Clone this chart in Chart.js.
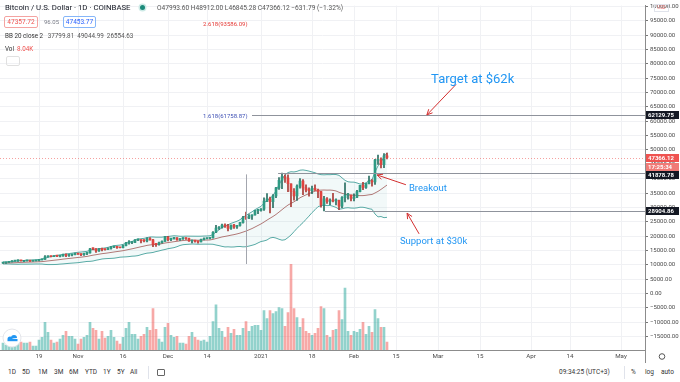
<!DOCTYPE html>
<html>
<head>
<meta charset="utf-8">
<script src="https://cdn.jsdelivr.net/npm/chart.js@4.4.0/dist/chart.umd.min.js"></script>
<style>
  body { margin: 0; width: 680px; height: 382px; overflow: hidden; background: #fff; position: relative;
         font-family: Roboto, "Noto Sans", Arial, sans-serif; }
  #wrap { position: absolute; left: 0; top: 0; width: 680px; height: 363px; }
  .t { position: absolute; white-space: nowrap; line-height: 1; }
  #sym { left: 5px; top: 4px; font-size: 7.8px; color: #131722; }
  #dot { left: 140px; top: 5px; width: 5px; height: 5px; border-radius: 50%; background: #1b8a7a; box-shadow: 0 0 0 1.5px #cdeae6; }
  #ohlc { left: 157px; top: 5px; font-size: 6.6px; color: #555; }
  .box { top: 16px; height: 12px; line-height: 10px; border-radius: 2px; box-sizing: border-box; text-align: center; font-size: 6.5px; }
  #bid { left: 4px; width: 34px; border: 1px solid #f4a3a1; color: #ef5350; }
  #spread { left: 44px; top: 19px; font-size: 6px; color: #787b86; }
  #ask { left: 63px; width: 33px; border: 1px solid #86b6f8; color: #2962ff; }
  #bb { left: 5px; top: 33px; font-size: 6.3px; color: #555; }
  #bb b { font-weight: normal; color: #333; margin-right: 3px; }
  #vol { left: 5px; top: 46px; font-size: 6.3px; color: #333; }
  #vol span { color: #ef5350; margin-left: 3px; }
  #fold { left: 6px; top: 56px; width: 12px; height: 8px; border: 1px solid #e0e0e0; border-radius: 2px; }
  #tb { position: absolute; left: 0; top: 363px; width: 680px; height: 19px; font-size: 6.5px; color: #333; }
  #tb .t { top: 6px; }
  .sep { position: absolute; top: 3px; width: 1px; height: 13px; background: #e0e3eb; }
  #cal { left: 157px; top: 5px; width: 8px; height: 7px; border: 1px solid #666; border-radius: 1px; box-sizing: border-box; }
</style>
</head>
<body>
<div id="wrap"><canvas id="c" width="680" height="363"></canvas></div>

<div class="t" id="sym">Bitcoin / U.S. Dollar · 1D · COINBASE</div>
<div class="t" id="dot"></div>
<div class="t" id="ohlc">O47993.60 H48912.00 L46845.28 C47366.12 −631.79 (−1.32%)</div>
<div class="t box" id="bid">47357.72</div>
<div class="t" id="spread">96.05</div>
<div class="t box" id="ask">47453.77</div>
<div class="t" id="bb"><b>BB 20 close 2</b> 37799.81&nbsp; 49044.99&nbsp; 26554.63</div>
<div class="t" id="vol">Vol<span>8.04K</span></div>
<div class="t" id="fold"></div>

<div id="tb">
  <span class="t" style="left:8px">1D</span>
  <span class="t" style="left:22px">5D</span>
  <span class="t" style="left:38px">1M</span>
  <span class="t" style="left:54px">3M</span>
  <span class="t" style="left:69px">6M</span>
  <span class="t" style="left:85px">YTD</span>
  <span class="t" style="left:103px">1Y</span>
  <span class="t" style="left:117px">5Y</span>
  <span class="t" style="left:130px">All</span>
  <div class="sep" style="left:148px"></div>
  <div class="t" id="cal"></div>
  <span class="t" style="left:559px">09:34:25 (UTC+3)</span>
  <div class="sep" style="left:624px"></div>
  <span class="t" style="left:631px">%</span>
  <span class="t" style="left:645px">log</span>
  <span class="t" style="left:661px">auto</span>
</div>

<script>
// daily candles, 7 Oct 2020 .. 12 Feb 2021 (index 0 = 7 Oct)
const opens = [
  10600,10670,10930,11060,11300,11380,11540,11430,11430,11510,11320,11370,11510,11750,11920,12820,12980,12930,13120,13030,13070,13650,13280,13460,13560,
  13800,13760,13560,14030,14160,15590,15580,14830,15480,15330,15310,15700,16280,16330,16070,15960,16730,17660,17780,17810,18680,18720,18420,18370,19160,18730,17150,17140,17720,18180,
  19700,18790,19230,19450,18650,19150,19360,19170,18320,18550,18250,18030,18800,19170,19270,19440,21350,22800,23130,23860,23480,22730,23820,23240,23730,24700,26440,26250,27040,27370,28880,
  28990,29390,32200,33000,32030,34030,36820,39470,40670,40240,38240,35540,34010,37390,39150,36830,36070,35820,36630,36020,35480,30830,33000,32100,32290,32260,32510,30430,33420,34260,34320,
  33110,33540,35510,37670,36960,38290,39260,38880,46450,46500,44850,47993.60
];
const highs = [
  10680,10950,11100,11490,11440,11720,11560,11560,11630,11540,11410,11520,11820,12020,13220,13180,13030,13170,13350,13240,13790,13860,13640,13670,14100,
  13900,13820,14080,14240,15770,15970,15700,15650,15850,15470,15950,16350,16480,16330,16140,16880,17860,18490,18120,18800,18970,18750,18770,19420,19480,18920,17470,17900,18350,19860,
  19920,19320,19580,19520,19180,19420,19420,19300,18640,18560,18290,18950,19410,19340,19570,21560,23800,23290,24170,24290,24100,23840,24100,23800,24790,26870,28420,27500,27400,29000,29300,
  29600,33300,34800,33600,34500,36950,40370,41950,41380,41350,38250,36600,37850,40000,39700,37900,36800,37400,37850,36400,35600,33830,33450,32950,34880,32950,32560,33800,38530,34900,34330,
  34700,35980,37700,38700,38300,40950,39700,46700,48200,47300,48700,48912.00
];
const lows = [
  10530,10550,10830,11050,11280,11230,11300,11310,11260,11220,11300,11340,11410,11690,11900,12690,12750,12890,12900,12780,13060,12900,12990,13130,13430,
  13620,13220,13300,13540,14100,15200,14360,14720,14830,15090,15280,15480,15970,15700,15870,15880,16560,17230,17370,17760,18420,17630,18000,18030,18570,16330,16440,16890,17560,18180,
  18330,18470,18930,18570,18500,18860,18900,18200,17650,17910,17570,18020,18730,19000,19060,19300,21230,22350,22770,23080,21820,22360,22700,22700,23440,24520,25850,26100,25850,27320,27850,
  28700,29000,32000,28130,29900,33400,36300,36500,38720,35500,30300,32500,32400,36700,34400,35400,33900,34800,35900,33400,30070,28800,31400,30950,31950,30830,29240,29880,31950,32850,32300,
  32300,33420,35370,36160,36600,38220,37400,37990,45000,43750,43800,46845.28
];
const closes = [
  10670,10930,11060,11300,11380,11540,11430,11430,11510,11320,11370,11510,11750,11920,12820,12980,12930,13120,13030,13070,13650,13280,13460,13560,13800,
  13760,13560,14030,14160,15590,15580,14830,15480,15330,15310,15700,16280,16330,16070,15960,16730,17660,17780,17810,18680,18720,18420,18370,19160,18730,17150,17140,17720,18180,19700,
  18790,19230,19450,18650,19150,19360,19170,18320,18550,18250,18030,18800,19170,19270,19440,21350,22800,23130,23860,23480,22730,23820,23240,23730,24700,26440,26250,27040,27370,28880,28990,
  29390,32200,33000,32030,34030,36820,39470,40670,40240,38240,35540,34010,37390,39150,36830,36070,35820,36630,36020,35480,30830,33000,32100,32290,32260,32510,30430,33420,34260,34320,33110,
  33540,35510,37670,36960,38290,39260,38880,46450,46500,44850,47990,47366.12
];
// closes of the 19 days before the first candle, only for the Bollinger bands
const warmupCloses = [10940,11080,10920,10420,10530,10240,10740,10690,10730,10770,10690,10840,10780,10620,10570,10550,10670,10790,10600];
// volume, thousands of BTC
const volumes = [
  7,5,5,6,7,8,8,7,7,8,4,4,10,13,28,18,10,7,8,11,15,19,14,14,11,
  6,11,13,15,28,22,20,11,19,12,14,20,13,9,6,13,22,28,16,16,11,14,16,23,20,42,21,11,8,23,
  27,15,13,14,7,7,6,14,18,13,10,9,10,8,14,29,46,22,19,13,23,17,21,15,15,22,29,19,24,25,25,
  20,40,32,40,37,39,43,42,24,38,87,42,33,23,32,19,17,15,17,22,44,42,15,13,20,21,40,31,63,19,15,
  19,18,21,28,16,24,18,41,32,23,23,8
];

const tickIdx = [12, 25, 40, 55, 68, 86, 103, 117, 131, 145, 159, 176, 189, 206];
const tickLabels = ['19', 'Nov', '16', 'Dec', '14', '2021', '18', 'Feb', '15', 'Mar', '15', 'Apr', '14', 'May'];
const priceTicks = [-15000,-10000,-5000,0,5000,10000,15000,20000,25000,30000,35000,40000,45000,50000,55000,60000,65000,70000,75000,80000,85000,90000,95000,100000];

// drawn levels and notes
const lastPrice = 47366.12;
const hLevels = [62129.75, 41878.78, 28904.86];
const hLevelFrom = [83, 91.7, 107.3];
const fibTexts = ['2.618(93586.09)', '1.618(61758.87)'];
const fibPrices = [93586.09, 61758.87];
const notes = ['Target at $62k', 'Breakout', 'Support at $30k'];
const noteAt = [[142.7, 74300], [135.3, 36700], [132.3, 18100]];
const arrowFrom = [[151, 72800], [134.3, 37900], [138.7, 20800]];
const arrowTo = [[141.3, 62200], [124.7, 41300], [134.7, 28000]];

const idx = closes.map((_, i) => i);
const up = idx.map(i => closes[i] >= opens[i]);

const all = warmupCloses.concat(closes);
const bbBasis = [], bbUpper = [], bbLower = [];
idx.forEach(i => {
  const win = all.slice(i, i + 20);
  const m = win.reduce((a, b) => a + b, 0) / 20;
  const sd = Math.sqrt(win.reduce((a, b) => a + (b - m) * (b - m), 0) / 20);
  bbBasis.push({x: i, y: m});
  bbUpper.push({x: i, y: m + 2 * sd});
  bbLower.push({x: i, y: m - 2 * sd});
});

function fmt(v) {
  return v < 0 ? '\u2212' + Math.abs(v).toFixed(2) : v.toFixed(2);
}

function arrow(ctx, x1, y1, x2, y2) {
  const a = Math.atan2(y2 - y1, x2 - x1), L = 6;
  ctx.beginPath();
  ctx.moveTo(x1, y1); ctx.lineTo(x2, y2);
  ctx.moveTo(x2, y2); ctx.lineTo(x2 - L * Math.cos(a - 0.45), y2 - L * Math.sin(a - 0.45));
  ctx.moveTo(x2, y2); ctx.lineTo(x2 - L * Math.cos(a + 0.45), y2 - L * Math.sin(a + 0.45));
  ctx.stroke();
}

function axisTag(ctx, yc, text, bg) {
  ctx.fillStyle = bg;
  ctx.fillRect(646, Math.round(yc - 4), 33, 8);
  ctx.fillStyle = '#fff';
  ctx.font = 'bold 6px Roboto, sans-serif';
  ctx.textAlign = 'left';
  ctx.textBaseline = 'middle';
  ctx.fillText(text, 648, yc + 0.5);
}

const drawings = {
  id: 'drawings',
  afterDatasetsDraw(chart) {
    const {ctx, chartArea: a, scales: {x, y}} = chart;
    ctx.save();
    ctx.beginPath();
    ctx.rect(a.left, a.top, a.right - a.left, a.bottom - a.top);
    ctx.clip();

    // last price dotted line
    let py = Math.round(y.getPixelForValue(lastPrice)) + 0.5;
    ctx.strokeStyle = 'rgba(239,83,80,0.55)';
    ctx.setLineDash([1, 2]);
    ctx.lineWidth = 1;
    ctx.beginPath(); ctx.moveTo(a.left, py); ctx.lineTo(a.right, py); ctx.stroke();
    ctx.setLineDash([]);

    // horizontal levels
    ctx.strokeStyle = '#8f939c';
    hLevels.forEach((p, k) => {
      const yy = Math.round(y.getPixelForValue(p)) + 0.5;
      ctx.beginPath(); ctx.moveTo(x.getPixelForValue(hLevelFrom[k]), yy); ctx.lineTo(a.right, yy); ctx.stroke();
    });

    // vertical marker
    const vx = Math.round(x.getPixelForValue(81)) + 0.5;
    ctx.strokeStyle = '#a3a6ae';
    ctx.beginPath(); ctx.moveTo(vx, y.getPixelForValue(41500)); ctx.lineTo(vx, y.getPixelForValue(10300)); ctx.stroke();

    // fib texts
    ctx.font = '6px Roboto, sans-serif';
    ctx.textAlign = 'left';
    ctx.textBaseline = 'middle';
    ['#e53935', '#3f51b5'].forEach((c, k) => {
      ctx.fillStyle = c;
      ctx.fillText(fibTexts[k], x.getPixelForValue(66.7), y.getPixelForValue(fibPrices[k]));
    });

    // arrows
    ctx.strokeStyle = '#d32f2f';
    ctx.lineWidth = 1;
    arrowFrom.forEach((f, k) => {
      arrow(ctx, x.getPixelForValue(f[0]), y.getPixelForValue(f[1]),
                 x.getPixelForValue(arrowTo[k][0]), y.getPixelForValue(arrowTo[k][1]));
    });

    // notes
    ctx.fillStyle = '#2196f3';
    [13, 9.5, 9.5].forEach((s, k) => {
      ctx.font = s + 'px Roboto, sans-serif';
      ctx.fillText(notes[k], x.getPixelForValue(noteAt[k][0]), y.getPixelForValue(noteAt[k][1]));
    });

    // logo badge
    ctx.fillStyle = '#fff';
    ctx.strokeStyle = '#e3e5ea';
    ctx.beginPath(); ctx.arc(12, 338, 9, 0, Math.PI * 2); ctx.fill(); ctx.stroke();
    ctx.fillStyle = '#2196f3';
    ctx.beginPath(); ctx.arc(10, 339, 2.5, Math.PI, 0); ctx.arc(14, 338, 3, Math.PI, 0); ctx.fill();
    ctx.fillRect(7.5, 339, 10, 2.2);
    ctx.restore();
  },
  afterDraw(chart) {
    const {ctx, scales: {y}} = chart;
    ctx.save();
    ctx.strokeStyle = '#8c8c8c';
    ctx.beginPath(); ctx.moveTo(645.5, 350); ctx.lineTo(645.5, 363); ctx.stroke();
    // gear
    ctx.strokeStyle = '#555';
    ctx.beginPath(); ctx.arc(662, 356.5, 2.8, 0, Math.PI * 2); ctx.stroke();
    // USD tag
    ctx.strokeStyle = '#e0e3eb';
    ctx.strokeRect(654.5, 4.5, 14, 7);
    ctx.fillStyle = '#e57373';
    ctx.font = '4.5px Roboto, sans-serif';
    ctx.textAlign = 'center'; ctx.textBaseline = 'middle';
    ctx.fillText('USD', 661.5, 8.3);

    axisTag(ctx, y.getPixelForValue(hLevels[0]), '62129.75', '#131722');
    const lp = y.getPixelForValue(lastPrice);
    axisTag(ctx, lp, '47366.12', '#ef5350');
    axisTag(ctx, lp + 9, '17:25:34', '#f07a76');
    axisTag(ctx, y.getPixelForValue(hLevels[1]) + 1.5, '41878.78', '#131722');
    axisTag(ctx, y.getPixelForValue(hLevels[2]), '28904.86', '#131722');
    ctx.restore();
  }
};

new Chart(document.getElementById('c'), {
  type: 'bar',
  data: {
    datasets: [
      {
        type: 'bar', yAxisID: 'yv', order: 10, barThickness: 2,
        data: idx.map(i => ({x: i, y: volumes[i]})),
        backgroundColor: up.map(u => u ? 'rgba(38,166,154,0.5)' : 'rgba(239,83,80,0.5)')
      },
      {
        type: 'line', yAxisID: 'y', order: 8, data: bbUpper,
        borderColor: '#58aaa5', borderWidth: 1, pointRadius: 0, fill: false
      },
      {
        type: 'line', yAxisID: 'y', order: 8, data: bbLower,
        borderColor: '#58aaa5', borderWidth: 1, pointRadius: 0,
        fill: '-1', backgroundColor: 'rgba(88,180,175,0.08)'
      },
      {
        type: 'line', yAxisID: 'y', order: 7, data: bbBasis,
        borderColor: '#b07876', borderWidth: 1, pointRadius: 0, fill: false
      },
      {
        type: 'bar', yAxisID: 'y', order: 2, barThickness: 1,
        data: idx.map(i => ({x: i, y: [lows[i], highs[i]]})),
        backgroundColor: up.map(u => u ? '#2a6f63' : '#a83a36')
      },
      {
        type: 'bar', yAxisID: 'y', order: 1, barThickness: 2, minBarLength: 1,
        data: idx.map(i => ({x: i, y: [opens[i], closes[i]]})),
        backgroundColor: up.map(u => u ? '#2e9a83' : '#e0433f')
      }
    ]
  },
  options: {
    responsive: false,
    animation: false,
    events: [],
    layout: { padding: 0 },
    datasets: { bar: { grouped: false } },
    plugins: { legend: { display: false }, tooltip: { enabled: false } },
    scales: {
      x: {
        type: 'linear', position: 'bottom', min: -1, max: 214, offset: false,
        afterBuildTicks: s => { s.ticks = tickIdx.map(v => ({value: v})); },
        afterFit: s => { s.height = 13; },
        ticks: {
          autoSkip: false, maxRotation: 0, padding: 3,
          callback: (v, i) => tickLabels[i],
          font: { size: 6.2, family: 'Roboto, sans-serif' }, color: '#4a4a4a'
        },
        grid: { color: '#f0f1f4', tickLength: 0, offset: false },
        border: { color: '#8c8c8c' }
      },
      y: {
        type: 'linear', position: 'right', min: -19620, max: 100240,
        afterBuildTicks: s => { s.ticks = priceTicks.map(v => ({value: v})); },
        afterFit: s => { s.width = 35; },
        ticks: {
          padding: 2, callback: v => fmt(v),
          font: { size: 6, family: 'Roboto, sans-serif' }, color: '#4a4a4a'
        },
        grid: { color: '#f0f1f4', tickLength: 3, tickColor: '#777' },
        border: { color: '#8c8c8c' }
      },
      yv: {
        type: 'linear', display: false, min: 0, max: 350,
        grid: { display: false }
      }
    }
  },
  plugins: [drawings]
});
</script>
</body>
</html>
